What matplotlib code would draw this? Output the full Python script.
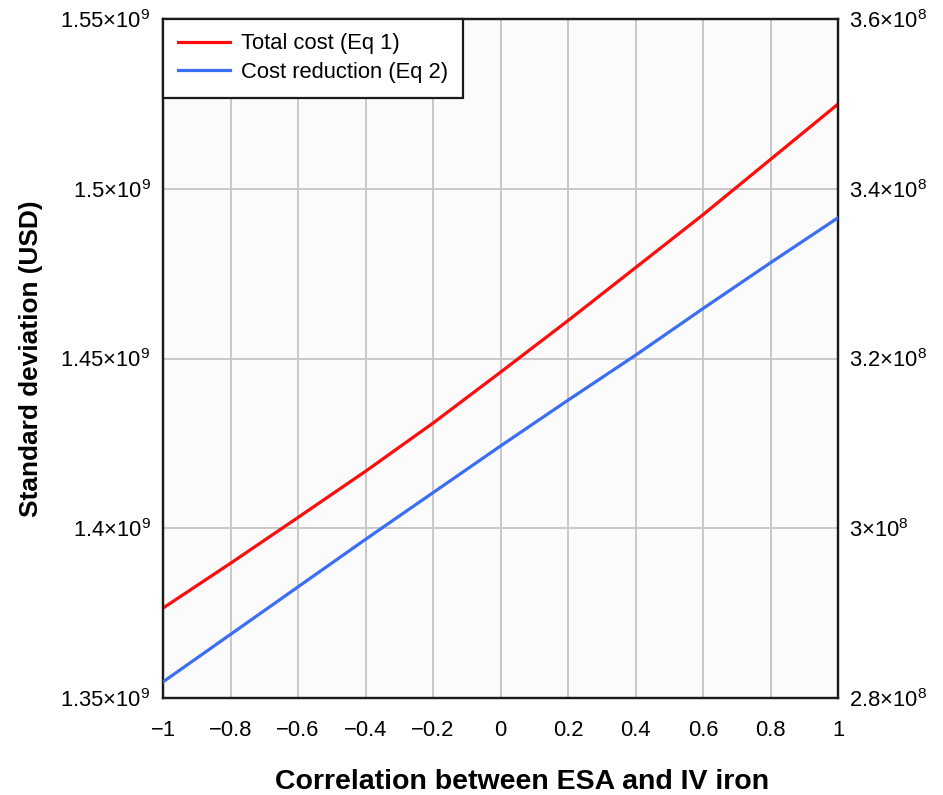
import matplotlib.pyplot as plt
from matplotlib.ticker import FixedLocator, FixedFormatter

plt.rcParams['font.family'] = ['Liberation Sans', 'DejaVu Sans']
plt.rcParams['mathtext.fontset'] = 'custom'
plt.rcParams['mathtext.rm'] = 'Liberation Sans'
plt.rcParams['axes.unicode_minus'] = True

# correlation values (x) and the two standard deviations
corr = [-1.0, -0.8, -0.6, -0.4, -0.2, 0.0, 0.2, 0.4, 0.6, 0.8, 1.0]
total_cost = [1.3765e9, 1.3897e9, 1.4032e9, 1.4168e9, 1.4310e9, 1.4460e9,
              1.4612e9, 1.4768e9, 1.4924e9, 1.5087e9, 1.5250e9]
cost_reduction = [2.819e8, 2.875e8, 2.931e8, 2.987e8, 3.042e8, 3.097e8,
                  3.151e8, 3.204e8, 3.259e8, 3.313e8, 3.366e8]

x_ticks = [-1, -0.8, -0.6, -0.4, -0.2, 0, 0.2, 0.4, 0.6, 0.8, 1]
x_labels = ['\u22121', '\u22120.8', '\u22120.6', '\u22120.4', '\u22120.2', '0',
            '0.2', '0.4', '0.6', '0.8', '1']
left_ticks = [1.35e9, 1.40e9, 1.45e9, 1.50e9, 1.55e9]
left_labels = [r'$\mathregular{1.35{\times}10^{9}}$', r'$\mathregular{1.4{\times}10^{9}}$',
               r'$\mathregular{1.45{\times}10^{9}}$', r'$\mathregular{1.5{\times}10^{9}}$',
               r'$\mathregular{1.55{\times}10^{9}}$']
right_ticks = [2.8e8, 3.0e8, 3.2e8, 3.4e8, 3.6e8]
right_labels = [r'$\mathregular{2.8{\times}10^{8}}$', r'$\mathregular{3{\times}10^{8}}$',
                r'$\mathregular{3.2{\times}10^{8}}$', r'$\mathregular{3.4{\times}10^{8}}$',
                r'$\mathregular{3.6{\times}10^{8}}$']

fig = plt.figure(figsize=(9.43, 7.95), dpi=100)
ax = fig.add_axes([0.1729, 0.122, 0.716, 0.8541])
ax2 = ax.twinx()

ax.set_facecolor('#fbfbfb')
l1, = ax.plot(corr, total_cost, color='#ff0d0d', lw=2.3, label='Total cost (Eq 1)', zorder=3)
l2, = ax2.plot(corr, cost_reduction, color='#3b6ef5', lw=2.3, label='Cost reduction (Eq 2)', zorder=3)

ax.set_xlim(-1, 1)
ax.set_ylim(1.35e9, 1.55e9)
ax2.set_ylim(2.8e8, 3.6e8)

ax.xaxis.set_major_locator(FixedLocator(x_ticks))
ax.xaxis.set_major_formatter(FixedFormatter(x_labels))
ax.yaxis.set_major_locator(FixedLocator(left_ticks))
ax.yaxis.set_major_formatter(FixedFormatter(left_labels))
ax2.yaxis.set_major_locator(FixedLocator(right_ticks))
ax2.yaxis.set_major_formatter(FixedFormatter(right_labels))

ax.grid(True, color='#c8c8c8', lw=1.4, zorder=0)
ax.set_axisbelow(True)

ax.tick_params(axis='x', length=0, pad=16, labelsize=15.8)
ax.tick_params(axis='y', length=0, pad=9, labelsize=15.8)
ax2.tick_params(axis='y', length=0, pad=8, labelsize=15.8)

for a in (ax, ax2):
    for s in a.spines.values():
        s.set_color('#1a1a1a')
        s.set_linewidth(1.6)

ax.set_xlabel('Correlation between ESA and IV iron', fontsize=20.5, fontweight='bold')
ax.xaxis.set_label_coords(0.531, -0.104)
ax.set_ylabel('Standard deviation (USD)', fontsize=18.9, fontweight='bold')
ax.yaxis.set_label_coords(-0.1775, 0.50)

leg = ax2.legend(handles=[l1, l2], loc='upper left', borderaxespad=0, fontsize=15.8,
                 fancybox=False, framealpha=1, edgecolor='#1a1a1a', handlelength=2.4,
                 handletextpad=0.5, borderpad=0.66, labelspacing=0.35)
leg.get_frame().set_linewidth(1.6)

fig.savefig('out.png', dpi=100)
